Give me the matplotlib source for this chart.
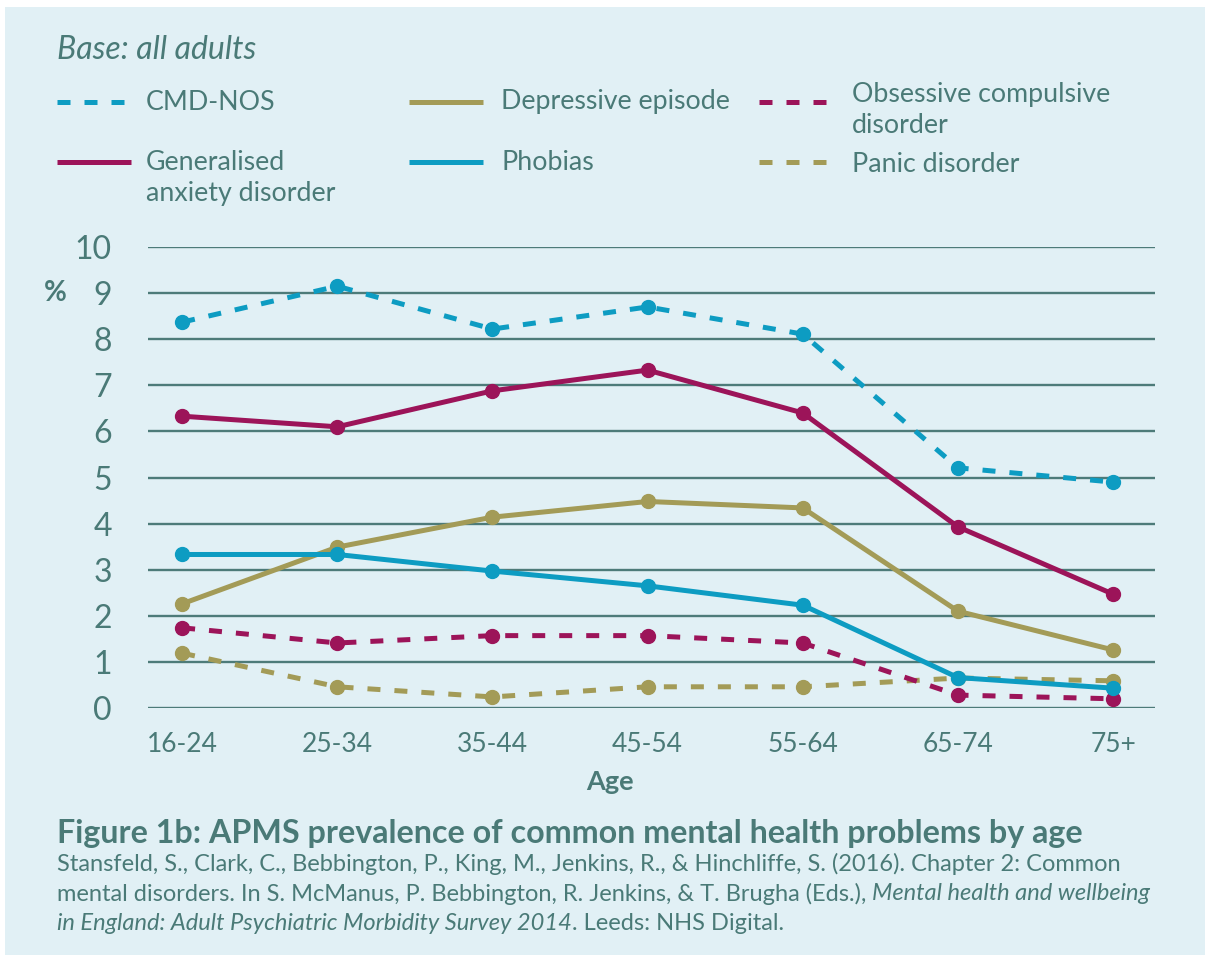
import matplotlib
matplotlib.use('Agg')
import matplotlib.pyplot as plt
from matplotlib.lines import Line2D
from matplotlib.patches import Rectangle

# ---------------- data ----------------
ages = ['16-24', '25-34', '35-44', '45-54', '55-64', '65-74', '75+']
cmd_nos = [8.37, 9.15, 8.22, 8.70, 8.11, 5.21, 4.90]
gad = [6.33, 6.10, 6.88, 7.33, 6.40, 3.93, 2.47]
depressive = [2.26, 3.49, 4.14, 4.48, 4.34, 2.10, 1.26]
phobias = [3.33, 3.33, 2.97, 2.65, 2.23, 0.66, 0.43]
ocd = [1.74, 1.41, 1.57, 1.57, 1.41, 0.28, 0.20]
panic = [1.19, 0.46, 0.24, 0.46, 0.46, 0.65, 0.59]
yticks = [0, 1, 2, 3, 4, 5, 6, 7, 8, 9, 10]
series_names = ['CMD-NOS', 'Depressive episode', 'Obsessive compulsive\ndisorder',
                'Generalised\nanxiety disorder', 'Phobias', 'Panic disorder']

# ---------------- style ----------------
W, H = 1210, 965
BG = '#e1f0f5'
TXT = '#4a7a77'
GRID = '#4d7b79'
CYAN = '#0d9cc2'
MAG = '#9c1459'
OLIVE = '#a39b57'
FONT = 'Lato'
LW = 3.6
DASH = (2.6, 2.8)

plt.rcParams['font.family'] = [FONT, 'DejaVu Sans']

fig = plt.figure(figsize=(W / 100, H / 100), dpi=100)
fig.patch.set_facecolor('white')


def fx(x):
    return x / W


def fy(y):
    return 1 - y / H


fig.add_artist(Rectangle((fx(5), fy(955)), fx(1205) - fx(5), fy(7) - fy(955),
                         transform=fig.transFigure, facecolor=BG, edgecolor='none', zorder=-10))

# axes: x from 148 to 1155 px, y 0 at 708 px, 10 at 247 px
ax = fig.add_axes([fx(148), fy(708), fx(1155) - fx(148), fy(247) - fy(708)])
ax.set_facecolor('none')
x = list(range(len(ages)))
ax.set_xlim(-0.22, 6.27)
ax.set_ylim(0, 10)
for v in yticks:
    ax.axhline(v, color=GRID, lw=1.7, zorder=1)

styles = [
    (panic, OLIVE, DASH),
    (ocd, MAG, DASH),
    (depressive, OLIVE, None),
    (phobias, CYAN, None),
    (gad, MAG, None),
    (cmd_nos, CYAN, DASH),
]
for i, (vals, col, dash) in enumerate(styles):
    kw = dict(color=col, lw=LW, marker='o', markersize=10, solid_capstyle='butt',
              dash_capstyle='butt', clip_on=False, zorder=3 + i)
    if dash is not None:
        kw['linestyle'] = (0, dash)
    ax.plot(x, vals, **kw)

for s in ax.spines.values():
    s.set_visible(False)
ax.set_yticks(yticks)
ax.set_yticklabels([str(v) for v in yticks])
ax.set_xticks(x)
ax.set_xticklabels(ages)
ax.tick_params(axis='y', length=0, pad=26, labelsize=23, labelcolor=TXT)
ax.tick_params(axis='x', length=0, pad=17, labelsize=19, labelcolor=TXT)
fig.text(fx(610), fy(782), 'Age', fontsize=19.5, fontweight='bold', color=TXT,
         ha='center', va='center')
fig.text(fx(55), fy(293), '%', fontsize=20, fontweight='bold', color=TXT,
         ha='center', va='center')

# ---------------- header ----------------
fig.text(fx(57), fy(50), 'Base: all adults', fontsize=23, style='italic', color=TXT,
         ha='left', va='center')

legend_items = [
    # (x0, x1, y_handle, text_x, text_y, color, dash, label)
    (57, 125, 102, 146, 102, CYAN, DASH, series_names[0]),
    (409, 483, 102, 501, 102, OLIVE, None, series_names[1]),
    (759, 827, 102, 852, 110, MAG, DASH, series_names[2]),
    (57, 131, 162, 146, 178, MAG, None, series_names[3]),
    (409, 483, 162, 501, 162, CYAN, None, series_names[4]),
    (759, 827, 162, 852, 165, OLIVE, DASH, series_names[5]),
]
for x0, x1, yh, tx, ty, col, dash, lab in legend_items:
    kw = dict(color=col, lw=LW, transform=fig.transFigure, solid_capstyle='butt',
              dash_capstyle='butt')
    if dash is not None:
        kw['linestyle'] = (0, dash)
    fig.add_artist(Line2D([fx(x0), fx(x1)], [fy(yh), fy(yh)], **kw))
    fig.text(fx(tx), fy(ty), lab, fontsize=19.3, color=TXT, ha='left', va='center',
             linespacing=1.33)

# ---------------- caption ----------------
fig.text(fx(57), fy(833), 'Figure 1b: APMS prevalence of common mental health problems by age',
         fontsize=23.2, fontweight='bold', color=TXT, ha='left', va='center')

renderer = fig.canvas.get_renderer()


def run(parts, y, size=17):
    xpos = fx(57)
    for txt, st in parts:
        t = fig.text(xpos, fy(y), txt, fontsize=size, style=st, color=TXT,
                     ha='left', va='center')
        bb = t.get_window_extent(renderer=renderer)
        xpos = fx(bb.x1)


run([('Stansfeld, S., Clark, C., Bebbington, P., King, M., Jenkins, R., & Hinchliffe, S. (2016). '
      'Chapter 2: Common', 'normal')], 864)
run([('mental disorders. In S. McManus, P. Bebbington, R. Jenkins, & T. Brugha (Eds.), ', 'normal'),
     ('Mental health and wellbeing', 'italic')], 894)
run([('in England: Adult Psychiatric Morbidity Survey 2014', 'italic'),
     ('. Leeds: NHS Digital.', 'normal')], 924)

fig.savefig('out.png', dpi=100, facecolor='white')
